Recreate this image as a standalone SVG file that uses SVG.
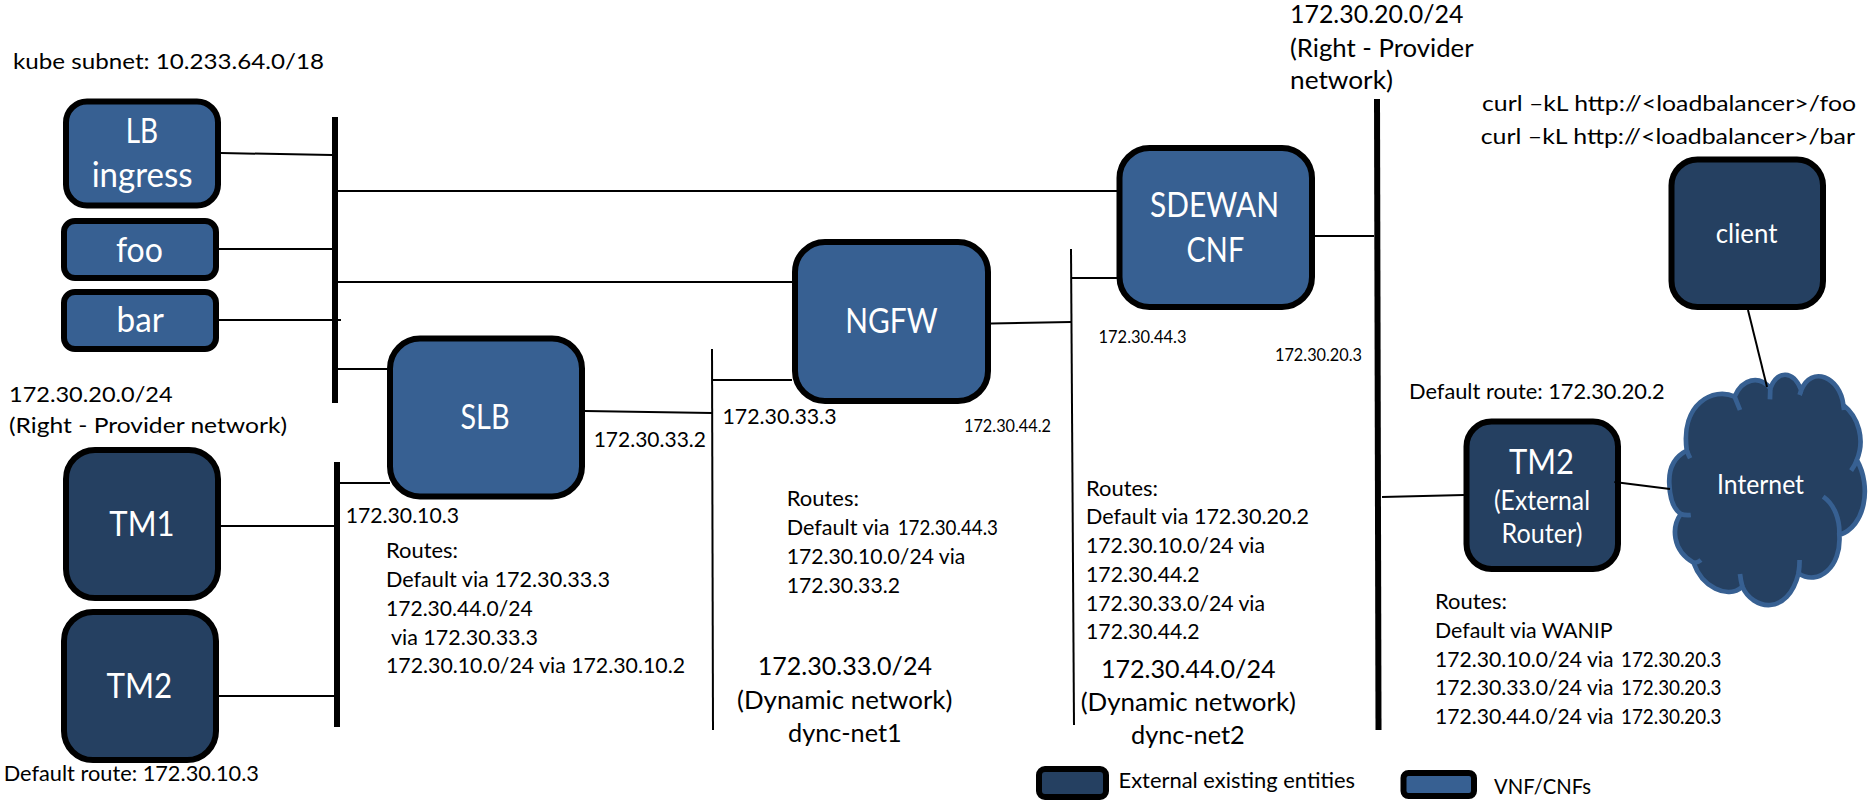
<svg xmlns="http://www.w3.org/2000/svg" width="1868" height="800" viewBox="0 0 1868 800">
<style>
text{font-family:"Lato","Carlito","Open Sans",sans-serif;fill:#000;font-size:22px}
.n{fill:#fff;font-size:34px}
.m{fill:#fff;font-size:26px}
.h{font-size:24.500px}
.s{font-size:17px}
.r{font-size:20.500px}
.l{font-size:20.500px}
.blue{fill:#376092;stroke:#000;stroke-width:6}
.dark{fill:#254061;stroke:#000;stroke-width:6}
#connectors line{stroke:#000;stroke-width:2}
#connectors line.bus{stroke-width:6}
</style>
<rect width="1868" height="800" fill="#fff"/>
<g id="node-lb-ingress"><rect class="blue" x="66" y="101.500" width="152" height="104" rx="21"/><text class="n" x="125.700" y="143" textLength="32.400" lengthAdjust="spacingAndGlyphs">LB</text><text class="n" x="91.700" y="186.500" textLength="101" lengthAdjust="spacingAndGlyphs">ingress</text></g>
<g id="node-foo"><rect class="blue" x="64" y="221" width="152" height="57" rx="11"/><text class="n" x="115.900" y="261.500" textLength="47" lengthAdjust="spacingAndGlyphs">foo</text></g>
<g id="node-bar"><rect class="blue" x="64" y="292" width="152" height="57" rx="11"/><text class="n" x="116.600" y="332" textLength="47.400" lengthAdjust="spacingAndGlyphs">bar</text></g>
<g id="node-slb"><rect class="blue" x="390" y="338.500" width="192" height="158" rx="30"/><text class="n" x="460.500" y="429" textLength="49" lengthAdjust="spacingAndGlyphs">SLB</text></g>
<g id="node-tm1"><rect class="dark" x="66" y="450" width="152" height="148" rx="29"/><text class="n" x="109.300" y="536" textLength="65.200" lengthAdjust="spacingAndGlyphs">TM1</text></g>
<g id="node-tm2"><rect class="dark" x="64" y="612" width="152" height="148" rx="29"/><text class="n" x="106.500" y="698" textLength="65.700" lengthAdjust="spacingAndGlyphs">TM2</text></g>
<g id="node-ngfw"><rect class="blue" x="795" y="242" width="193" height="159" rx="30"/><text class="n" x="845.300" y="333" textLength="92.300" lengthAdjust="spacingAndGlyphs">NGFW</text></g>
<g id="node-sdewan"><rect class="blue" x="1119.500" y="148" width="192.500" height="159" rx="30"/><text class="n" x="1150" y="217" textLength="129" lengthAdjust="spacingAndGlyphs">SDEWAN</text><text class="n" x="1186.600" y="262" textLength="57.600" lengthAdjust="spacingAndGlyphs">CNF</text></g>
<g id="node-client"><rect class="dark" x="1671.500" y="159.500" width="151.500" height="147.500" rx="26"/><text class="m" x="1715.800" y="242.700" textLength="61.600" lengthAdjust="spacingAndGlyphs">client</text></g>
<g id="node-tm2-router"><rect class="dark" x="1466.500" y="421.500" width="151.500" height="147.500" rx="25"/><text class="n" x="1509" y="474" textLength="65" lengthAdjust="spacingAndGlyphs">TM2</text><text class="m" x="1494" y="510" textLength="96" lengthAdjust="spacingAndGlyphs">(External</text><text class="m" x="1501.600" y="542.700" textLength="80.800" lengthAdjust="spacingAndGlyphs">Router)</text></g>
<g id="node-internet">
<g transform="translate(1340 360) scale(.3367 .3333)" stroke="#376092" stroke-width="14" fill="none">
<path fill="#254061" d="M1030,272 Q975,300 978,370 Q980,440 1012,462 C985,500 985,570 1050,608 C1075,680 1150,720 1195,680 C1225,750 1330,770 1362,640 C1420,680 1490,620 1483,525 C1560,500 1580,380 1535,300 C1560,240 1540,170 1495,135 C1485,50 1400,15 1370,90 C1345,30 1300,30 1278,85 C1245,45 1195,55 1172,110 C1110,80 1010,130 1030,272 Z"/>
<path d="M1030,272 Q1035,285 1040,295 M1012,462 Q1025,467 1042,465 M1050,608 Q1060,610 1072,600 M1195,680 Q1190,660 1188,642 M1362,640 Q1365,620 1365,600 M1483,525 C1485,480 1470,435 1435,410 M1535,300 Q1530,315 1518,332 M1495,135 L1497,150 M1370,90 L1365,105 M1278,85 L1277,118 M1172,110 Q1180,130 1188,150"/>
</g>
<text class="m" x="1717" y="494" textLength="87" lengthAdjust="spacingAndGlyphs">Internet</text></g>
<g id="connectors">
<line class="bus" x1="335" y1="117" x2="335" y2="403"/>
<line class="bus" x1="337" y1="462" x2="337" y2="727"/>
<line class="bus" x1="1377" y1="99" x2="1378.500" y2="730"/>
<line x1="712" y1="349" x2="713" y2="730"/>
<line x1="1071" y1="249" x2="1074" y2="725"/>
<line x1="221" y1="153" x2="332" y2="155"/>
<line x1="219" y1="249" x2="332" y2="249"/>
<line x1="219" y1="320" x2="341" y2="320"/>
<line x1="338" y1="191" x2="1117" y2="191"/>
<line x1="338" y1="282" x2="793" y2="282"/>
<line x1="338" y1="369" x2="388" y2="369"/>
<line x1="340" y1="483" x2="390" y2="483"/>
<line x1="221" y1="526" x2="334" y2="526"/>
<line x1="218.500" y1="696" x2="334" y2="696"/>
<line x1="585" y1="411" x2="712" y2="413"/>
<line x1="712" y1="380" x2="792" y2="380"/>
<line x1="991" y1="323.500" x2="1071" y2="322"/>
<line x1="1071" y1="278" x2="1117" y2="278"/>
<line x1="1315" y1="236" x2="1374" y2="236"/>
<line x1="1382" y1="497" x2="1464" y2="495"/>
<line x1="1614.400" y1="482" x2="1670" y2="489"/>
<line x1="1748" y1="310" x2="1767" y2="387"/>
</g>
<g id="labels">
<text x="13" y="69" textLength="311" lengthAdjust="spacingAndGlyphs">kube subnet: 10.233.64.0/18</text>
<text x="9" y="401.700" textLength="163.600" lengthAdjust="spacingAndGlyphs">172.30.20.0/24</text>
<text x="9" y="433" textLength="278" lengthAdjust="spacingAndGlyphs">(Right - Provider network)</text>
<text x="593.700" y="447" textLength="112.300" lengthAdjust="spacingAndGlyphs">172.30.33.2</text>
<text x="345.700" y="522.700" textLength="113.300" lengthAdjust="spacingAndGlyphs">172.30.10.3</text>
<text x="386" y="558" textLength="72" lengthAdjust="spacingAndGlyphs">Routes:</text>
<text x="386" y="587" textLength="224" lengthAdjust="spacingAndGlyphs">Default via 172.30.33.3</text>
<text x="386" y="616" textLength="146.600" lengthAdjust="spacingAndGlyphs">172.30.44.0/24</text>
<text x="391" y="645" textLength="147" lengthAdjust="spacingAndGlyphs">via 172.30.33.3</text>
<text x="386" y="673" textLength="299" lengthAdjust="spacingAndGlyphs">172.30.10.0/24 via 172.30.10.2</text>
<text x="3.700" y="781" textLength="255.300" lengthAdjust="spacingAndGlyphs">Default route: 172.30.10.3</text>
<text x="722.500" y="424" textLength="114" lengthAdjust="spacingAndGlyphs">172.30.33.3</text>
<text class="s" x="964" y="431.700" textLength="87" lengthAdjust="spacingAndGlyphs">172.30.44.2</text>
<text class="s" x="1098.500" y="342.700" textLength="88" lengthAdjust="spacingAndGlyphs">172.30.44.3</text>
<text class="s" x="1275" y="361" textLength="87" lengthAdjust="spacingAndGlyphs">172.30.20.3</text>
<text x="786.700" y="505.700" textLength="72.300" lengthAdjust="spacingAndGlyphs">Routes:</text>
<text x="786.700" y="535" textLength="102.800" lengthAdjust="spacingAndGlyphs">Default via</text>
<text class="r" x="897.700" y="535" textLength="100.300" lengthAdjust="spacingAndGlyphs">172.30.44.3</text>
<text x="786.700" y="564" textLength="178.700" lengthAdjust="spacingAndGlyphs">172.30.10.0/24 via</text>
<text x="786.700" y="592.700" textLength="113.300" lengthAdjust="spacingAndGlyphs">172.30.33.2</text>
<text x="1086" y="495.700" textLength="72" lengthAdjust="spacingAndGlyphs">Routes:</text>
<text x="1086" y="524" textLength="223" lengthAdjust="spacingAndGlyphs">Default via 172.30.20.2</text>
<text x="1086" y="552.700" textLength="179" lengthAdjust="spacingAndGlyphs">172.30.10.0/24 via</text>
<text x="1086" y="581.700" textLength="113.600" lengthAdjust="spacingAndGlyphs">172.30.44.2</text>
<text x="1086" y="610.700" textLength="179" lengthAdjust="spacingAndGlyphs">172.30.33.0/24 via</text>
<text x="1086" y="639" textLength="113.600" lengthAdjust="spacingAndGlyphs">172.30.44.2</text>
<text class="h" x="757.700" y="675" textLength="174.300" lengthAdjust="spacingAndGlyphs">172.30.33.0/24</text>
<text class="h" x="737" y="709" textLength="215.400" lengthAdjust="spacingAndGlyphs">(Dynamic network)</text>
<text class="h" x="788" y="741.700" textLength="113.600" lengthAdjust="spacingAndGlyphs">dync-net1</text>
<text class="h" x="1101" y="677.700" textLength="174.500" lengthAdjust="spacingAndGlyphs">172.30.44.0/24</text>
<text class="h" x="1080.700" y="710.700" textLength="215.300" lengthAdjust="spacingAndGlyphs">(Dynamic network)</text>
<text class="h" x="1131" y="744" textLength="113.700" lengthAdjust="spacingAndGlyphs">dync-net2</text>
<text class="h" x="1290" y="22.700" textLength="173.500" lengthAdjust="spacingAndGlyphs">172.30.20.0/24</text>
<text class="h" x="1290" y="56.700" textLength="183.500" lengthAdjust="spacingAndGlyphs">(Right - Provider</text>
<text class="h" x="1290" y="89" textLength="103" lengthAdjust="spacingAndGlyphs">network)</text>
<text x="1482" y="110.700" textLength="374" lengthAdjust="spacingAndGlyphs">curl –kL http://&lt;loadbalancer&gt;/foo</text>
<text x="1480.700" y="144" textLength="374.300" lengthAdjust="spacingAndGlyphs">curl –kL http://&lt;loadbalancer&gt;/bar</text>
<text x="1409" y="398.500" textLength="255.700" lengthAdjust="spacingAndGlyphs">Default route: 172.30.20.2</text>
<text x="1435" y="609.300" textLength="72" lengthAdjust="spacingAndGlyphs">Routes:</text>
<text x="1435" y="638" textLength="177.700" lengthAdjust="spacingAndGlyphs">Default via WANIP</text>
<text x="1435" y="667" textLength="178.400" lengthAdjust="spacingAndGlyphs">172.30.10.0/24 via</text>
<text class="r" x="1621" y="667" textLength="100.500" lengthAdjust="spacingAndGlyphs">172.30.20.3</text>
<text x="1435" y="695" textLength="178.400" lengthAdjust="spacingAndGlyphs">172.30.33.0/24 via</text>
<text class="r" x="1621" y="695" textLength="100.500" lengthAdjust="spacingAndGlyphs">172.30.20.3</text>
<text x="1435" y="724" textLength="178.400" lengthAdjust="spacingAndGlyphs">172.30.44.0/24 via</text>
<text class="r" x="1621" y="724" textLength="100.500" lengthAdjust="spacingAndGlyphs">172.30.20.3</text>
</g>
<g id="legend">
<rect class="dark" x="1039" y="769" width="67" height="28" rx="6"/>
<text class="l" x="1118.500" y="788" textLength="236.500" lengthAdjust="spacingAndGlyphs">External existing entities</text>
<rect class="blue" x="1403.500" y="773" width="70.500" height="23" rx="5"/>
<text class="l" x="1494" y="794" textLength="97" lengthAdjust="spacingAndGlyphs">VNF/CNFs</text>
</g>
</svg>
